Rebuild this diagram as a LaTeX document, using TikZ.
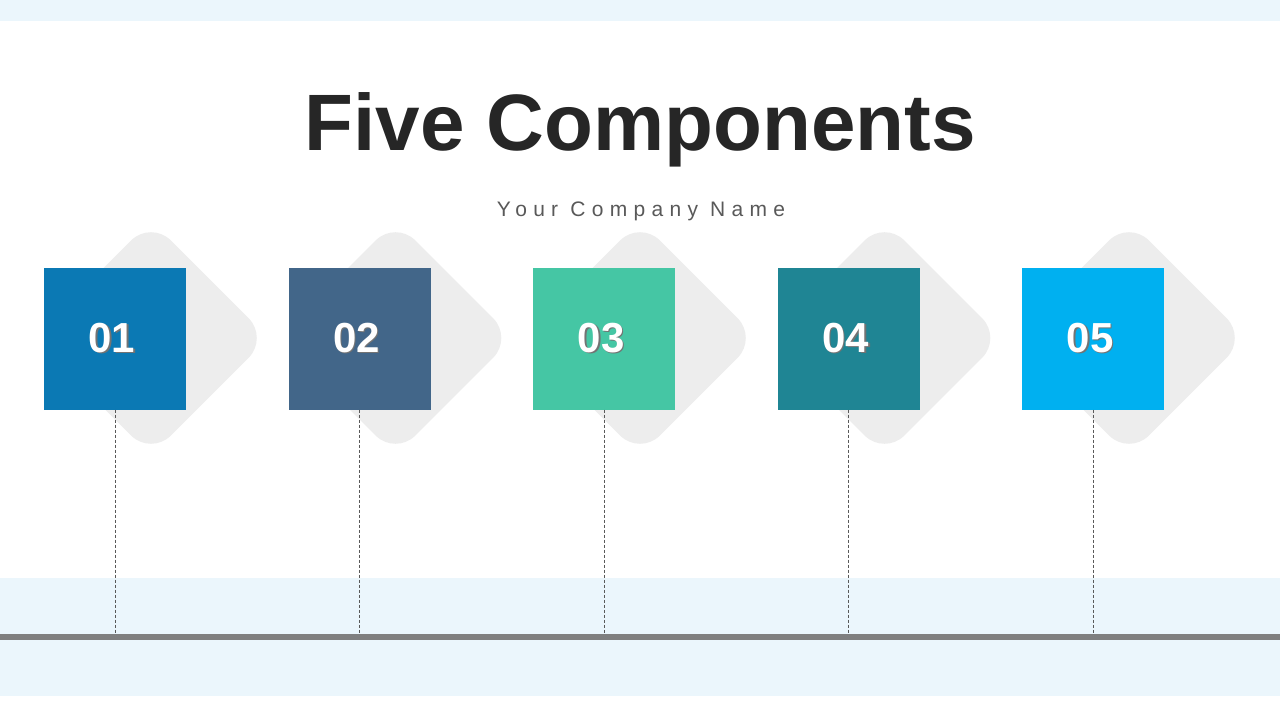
\documentclass[tikz,border=0pt]{standalone}
\usepackage{fontspec}
\setmainfont{Liberation Sans}
\newfontfamily\spacedfont[LetterSpace=30]{Liberation Sans}
\definecolor{bandblue}{HTML}{EBF6FC}
\definecolor{axisgray}{HTML}{7F7F7F}
\definecolor{diamondgray}{HTML}{EDEDED}
\definecolor{titlegray}{HTML}{262626}
\definecolor{subgray}{HTML}{595959}
\definecolor{boxone}{HTML}{0B79B4}
\definecolor{boxtwo}{HTML}{426689}
\definecolor{boxthree}{HTML}{45C6A4}
\definecolor{boxfour}{HTML}{1F8594}
\definecolor{boxfive}{HTML}{00B0F0}
\newcommand\shadednum[1]{\rlap{\raisebox{-1.5pt}{\kern1.5pt\color{black!55}#1}}#1\kern6pt}
\begin{document}
\begin{tikzpicture}[x=1pt,y=-1pt,
  backdiamond/.style={rectangle,rotate=45,minimum size=166pt,inner sep=0pt,rounded corners=28pt,fill=diamondgray},
  numbox/.style={rectangle,minimum size=142pt,inner sep=0pt,text=white,font=\bfseries\fontsize{42}{42}\selectfont},
  leader/.style={draw=subgray,line width=0.75pt,dash pattern=on 3pt off 2pt}]
\useasboundingbox (0,0) rectangle (1280,720);
\fill[white] (0,0) rectangle (1280,720);
\fill[bandblue] (0,0) rectangle (1280,21);
\fill[bandblue] (0,578) rectangle (1280,696);
\fill[axisgray] (0,634) rectangle (1280,640);
\node[font=\bfseries\fontsize{80}{80}\selectfont,text=titlegray,anchor=base] (title) at (640,150) {Five Components};
\node[font=\spacedfont\fontsize{21}{21}\selectfont,text=subgray,anchor=base] (subtitle) at (641,216.5) {Your Company Name};
\node[backdiamond] (d1) at (151,338) {};
\node[backdiamond] (d2) at (395.5,338) {};
\node[backdiamond] (d3) at (640,338) {};
\node[backdiamond] (d4) at (884.5,338) {};
\node[backdiamond] (d5) at (1129,338) {};
\node[numbox,fill=boxone] (b1) at (115,338.5) {\shadednum{01}};
\node[numbox,fill=boxtwo] (b2) at (359.5,338.5) {\shadednum{02}};
\node[numbox,fill=boxthree] (b3) at (604,338.5) {\shadednum{03}};
\node[numbox,fill=boxfour] (b4) at (848.5,338.5) {\shadednum{04}};
\node[numbox,fill=boxfive] (b5) at (1093,338.5) {\shadednum{05}};
\coordinate (a1) at (115,634);
\coordinate (a2) at (359.5,634);
\coordinate (a3) at (604,634);
\coordinate (a4) at (848.5,634);
\coordinate (a5) at (1093,634);
\draw[leader] (b1.south) -- (a1);
\draw[leader] (b2.south) -- (a2);
\draw[leader] (b3.south) -- (a3);
\draw[leader] (b4.south) -- (a4);
\draw[leader] (b5.south) -- (a5);
\end{tikzpicture}
\end{document}
